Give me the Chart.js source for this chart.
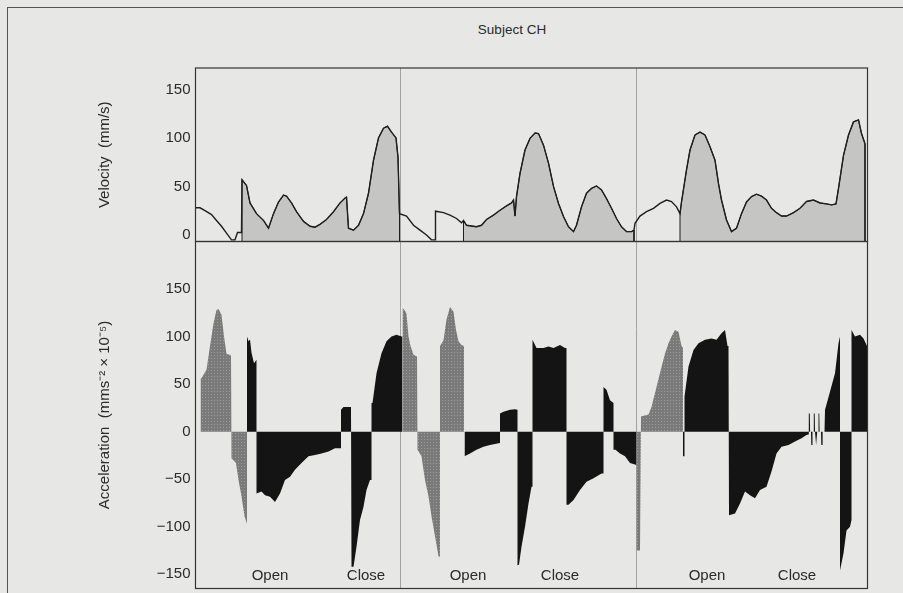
<!DOCTYPE html>
<html>
<head>
<meta charset="utf-8">
<script src="https://cdn.jsdelivr.net/npm/chart.js@4.4.1/dist/chart.umd.min.js"></script>
<style>
  html,body{margin:0;padding:0;background:#e7e8e5;}
  #wrap{position:relative;width:903px;height:593px;overflow:hidden;}
  #frame{position:absolute;left:7px;top:7px;width:1000px;height:1000px;border-left:1.5px solid #555;border-top:1.5px solid #555;}
  #title{position:absolute;left:0;width:1024px;top:22px;text-align:center;font:13.5px "Liberation Sans",Arial,sans-serif;color:#2a2a2a;}
  canvas{position:absolute;left:0;top:0;}
</style>
</head>
<body>
<div id="wrap">
  <div id="frame"></div>
  <div id="title">Subject CH</div>
  <canvas id="c" width="903" height="593"></canvas>
</div>
<script>
// ---- data (time in arbitrary units across the three trials) ----
const T_MAX = 672;
const VEL_MIN = -6.7, VEL_MAX = 172;
const ACC_MIN = -165, ACC_MAX = 200;
const velTicks = [0, 50, 100, 150];
const accTicks = [-150, -100, -50, 0, 50, 100, 150];
const trialBreaks = [204, 440];
const phaseLabels = ['Open', 'Close', 'Open', 'Close', 'Open', 'Close'];
const phaseT = [74.5, 170.5, 272.5, 364.5, 511.5, 601.5];

// velocity trace
const velT = [0,4.5,9.5,16,21,26,31,36,39.5,42,46,46.5,51,54.5,61,68,73,78,83,88,91,96,101,108,114.5,119.5,124.5,131,138,144.5,149.5,151,153,158,163,168,173,178,183,188,192,196,200.5,202.5,204,
  211,218,224.5,231,236,239.5,240,248,254.5,261,266,268,271,281,286,291,298,304.5,311,316,318,319.5,321,324.5,329.5,334.5,339.5,343,348,353,358,363,368,373,378,381,386,391,396,401,406,411,416,421,426,431,436,438.5,
  439.5,444.5,451,458,464.5,471,476,481,484.5,486,491,494.5,499.5,504.5,509.5,514.5,519.5,523,526,531,536,541,546,551,556,561,566,571,576,581,586,591,598,604.5,611,618,624.5,631,636,640.5,643,648,653,658,663,666,669.5];
const velV = [28,28,25,21,15,9,2,-5,-5,2.5,2.5,57,51,33,22,15,7,22,34,41,40,33,24,14,9,8,11,16,24,33,38,39,7,5,10,22,43,77,100,110,112,106,100,80,22,
  19.5,10,5,0,-5,-5,24.5,23,20.5,17,12.5,15,10,8.5,10,16,20.5,25.5,30,33,36,19.5,39.5,63.5,87.5,99.5,105,104.5,92.5,74,50,32.5,19,8.5,3.5,10,29,43,48,50.5,46.5,37.5,27.5,17,8.5,3.5,3.5,5,
  12,19.5,24,27.5,32.5,36,34.5,29,22,34,67,87.5,103,106,103,91,77,53,36,15.5,3.5,7,22,34,39.5,42,40,36,27.5,23,19.5,19.5,23,27.5,34.5,36,33,32,31,32,48,82,103,116.5,118.5,104.5,94];
// shaded movement intervals of the velocity trace
const velFillFrom = [46.5, 268, 484.5];
const velFillTo = [204, 438.5, 669.5];

// acceleration, grey phases (null = gap)
const accGrayT = [5,7,11,14.5,18,21,23,26,28.5,31,34,35.5,36,40.5,43,46,49,51.5,null,
  207,209,211,213,215,218,221.5,222,226,229.5,233,236,239.5,243,244.5,244.5,248,251,254.5,258,260.5,263,266,268.5,null,
  441,444.5,445.5,449,453,456,461,466,469.5,473,476,479.5,483,486,487.5];
const accGrayV = [55,58,65,90,114,128,129,123,100,82,81,80,-28,-33,-51,-68,-89,-97,null,
  130,128,124,100,90,81,79,-19,-26,-51,-68,-89,-110,-131,-132,90,96,118,131,126,107,95,91,90,null,
  -125,-125,16,17,18,26,47,68,82,93,100,107,105,90,88];

// acceleration, black phases (null = gap)
const accBlackT = [51.5,53,54.5,56,58.5,61,61,66,69.5,74.5,79.5,84.5,89.5,94.5,99.5,106,113,119.5,126,133,139.5,145.5,145.5,148,155.5,
  156,158,161,164.5,168,171,174.5,176,176,177,181,186,191,196,201,206,207,null,
  269,274.5,281,288,294.5,303,304.5,304.5,308,314.5,319.5,322,322,323.5,326,329.5,333,336,337,337,341,348,353,358,364.5,369.5,371,
  371,373,378,384.5,391,398,406,408,408,411,414.5,418,418,420,424.5,429.5,434.5,441,null,
  487.5,488.5,489,493,498,503,509.5,516,521,526,529.5,532,533,533.5,539.5,544.5,549.5,554.5,559.5,564.5,571,576,581,586,593,599.5,606,611,613,
  613.3,614.3,614.6,615.5,615.8,616.6,617,618,618.3,619.2,619.5,620.3,620.6,621.4,621.7,622.7,623,623.8,624.1,625.5,625.8,626.8,627.1,629,
  629.5,634,639.5,643,644.5,644.5,648,651,654.5,656,656,659.5,664.5,668,671.5,672];
const accBlackV = [100,95,97,83,72,75.5,-65,-63,-67,-68.5,-74,-65,-51,-47.5,-40,-33,-26,-24.5,-23,-21,-17.5,-17.5,23,26,26,
  -142,-142,-121,-93,-79,-61.5,-51,-51,30,30,61.5,82.5,95,100,102,100,100,null,
  -26,-23,-19,-16,-14,-12.3,-12,19,21,23,23.5,23,-140.5,-140,-121,-100,-75.5,-58,-58,96.6,88,88,89.6,88,91,88,88,
  -77,-77,-72,-61.5,-52.7,-49,-44,-44,47,44,33,30,-19,-19,-23,-26,-33,-35,null,
  -26,-26,37,68.5,86,93,96.6,98,96.6,103.6,107,90,90,-88,-86,-75.5,-63,-67,-70,-61.5,-58,-42,-23,-16,-14,-10.5,-7,-3.5,-3,
  19,19,0,0,-14,-14,0,0,19,19,0,0,-14,-14,0,0,19,19,0,0,-14,-14,0,0,
  23,40,61.5,93,100,-146,-128,-104,-100,-93,107,100,102,98,90,90];

// ---- helpers ----
function toPoints(T, V){
  return T.map((t, i) => ({x: t === null ? T[i - 1] : t, y: V[i]}));
}
function fillSegment(from, to){
  const pts = [];
  velT.forEach((t, i) => { if (t >= from && t <= to) pts.push({x: t, y: velV[i]}); });
  pts.unshift({x: pts[0].x, y: VEL_MIN});
  pts.push({x: pts[pts.length - 1].x, y: VEL_MIN});
  return pts;
}
function halftone(base, dot){
  const c = document.createElement('canvas'); c.width = 3; c.height = 3;
  const g = c.getContext('2d');
  g.fillStyle = base; g.fillRect(0, 0, 3, 3);
  g.fillStyle = dot; g.fillRect(1, 1, 1, 1);
  return g.createPattern(c, 'repeat');
}
const FONT = 'Liberation Sans, Arial, sans-serif';
const INK = '#2a2a2a';
const minus = v => String(v).replace('-', '\u2212');

// ---- datasets ----
const datasets = [
  {label: 'velocity', data: toPoints(velT, velV), yAxisID: 'yV', borderColor: '#1e1e1e', borderWidth: 1.4, fill: false, pointRadius: 0, tension: 0}
];
velFillFrom.forEach((f, k) => {
  datasets.push({label: 'vfill' + k, data: fillSegment(f, velFillTo[k]), yAxisID: 'yV', borderColor: '#1e1e1e', borderWidth: 1,
    backgroundColor: '#c5c6c3', fill: 'start', pointRadius: 0, tension: 0});
});
datasets.push({label: 'accBlack', data: toPoints(accBlackT, accBlackV), yAxisID: 'yA', borderWidth: 0, borderColor: 'rgba(0,0,0,0)',
  backgroundColor: '#141414', fill: 'origin', pointRadius: 0, tension: 0, spanGaps: false});
datasets.push({label: 'accGray', data: toPoints(accGrayT, accGrayV), yAxisID: 'yA', borderWidth: 0, borderColor: 'rgba(0,0,0,0)',
  backgroundColor: halftone('#7a7a7a', '#9c9c9c'), fill: 'origin', pointRadius: 0, tension: 0, spanGaps: false});

// ---- decorations: panel frames, trial dividers, phase labels ----
const panelDecor = {
  id: 'panelDecor',
  beforeDatasetsDraw(chart){
    const {ctx, chartArea, scales} = chart;
    ctx.save();
    ctx.strokeStyle = '#a2a2a2'; ctx.lineWidth = 1;
    trialBreaks.forEach(t => {
      const x = Math.round(scales.x.getPixelForValue(t)) + 0.5;
      ctx.beginPath(); ctx.moveTo(x, chartArea.top); ctx.lineTo(x, chartArea.bottom); ctx.stroke();
    });
    ctx.restore();
  },
  afterDatasetsDraw(chart){
    const {ctx, chartArea, scales} = chart;
    ctx.save();
    ctx.strokeStyle = '#333'; ctx.lineWidth = 1.2;
    ['yV', 'yA'].forEach(id => {
      const s = scales[id];
      ctx.strokeRect(chartArea.left, s.top, chartArea.right - chartArea.left, s.bottom - s.top);
    });
    ctx.fillStyle = INK;
    ctx.font = '15px ' + FONT;
    ctx.textAlign = 'center'; ctx.textBaseline = 'middle';
    phaseLabels.forEach((lab, i) => {
      ctx.fillText(lab, scales.x.getPixelForValue(phaseT[i]), scales.yA.getPixelForValue(-152));
    });
    ctx.restore();
  }
};

function yAxis(ticksArr, min, max, weight, title){
  return {
    type: 'linear', position: 'left', stack: 'panels', stackWeight: weight, min: min, max: max,
    grid: {display: false, drawTicks: false}, border: {display: false},
    afterBuildTicks: s => { s.ticks = ticksArr.map(v => ({value: v})); },
    // ticks sit inside the range, so no extra room is needed above/below
    afterFit: s => { s.width = 120; s.paddingTop = 0; s.paddingBottom = 0; },
    ticks: {color: INK, font: {family: FONT, size: 15}, padding: 5, callback: v => minus(v)},
    title: {display: true, text: title, color: INK, font: {family: FONT, size: 15}, padding: {top: 20, bottom: 0}}
  };
}

new Chart(document.getElementById('c'), {
  type: 'line',
  data: {datasets: datasets},
  plugins: [panelDecor],
  options: {
    responsive: false, animation: false, devicePixelRatio: 1,
    layout: {padding: {left: 75.5, right: 35.5, top: 68, bottom: 4.5}},
    plugins: {legend: {display: false}, tooltip: {enabled: false}},
    scales: {
      x: {type: 'linear', min: 0, max: T_MAX, display: false},
      yA: yAxis(accTicks, ACC_MIN, ACC_MAX, 2, 'Acceleration  (mms\u207B\u00B2 \u00D7 10\u207B\u2075)'),
      yV: yAxis(velTicks, VEL_MIN, VEL_MAX, 1, 'Velocity  (mm/s)')
    }
  }
});
</script>
</body>
</html>
